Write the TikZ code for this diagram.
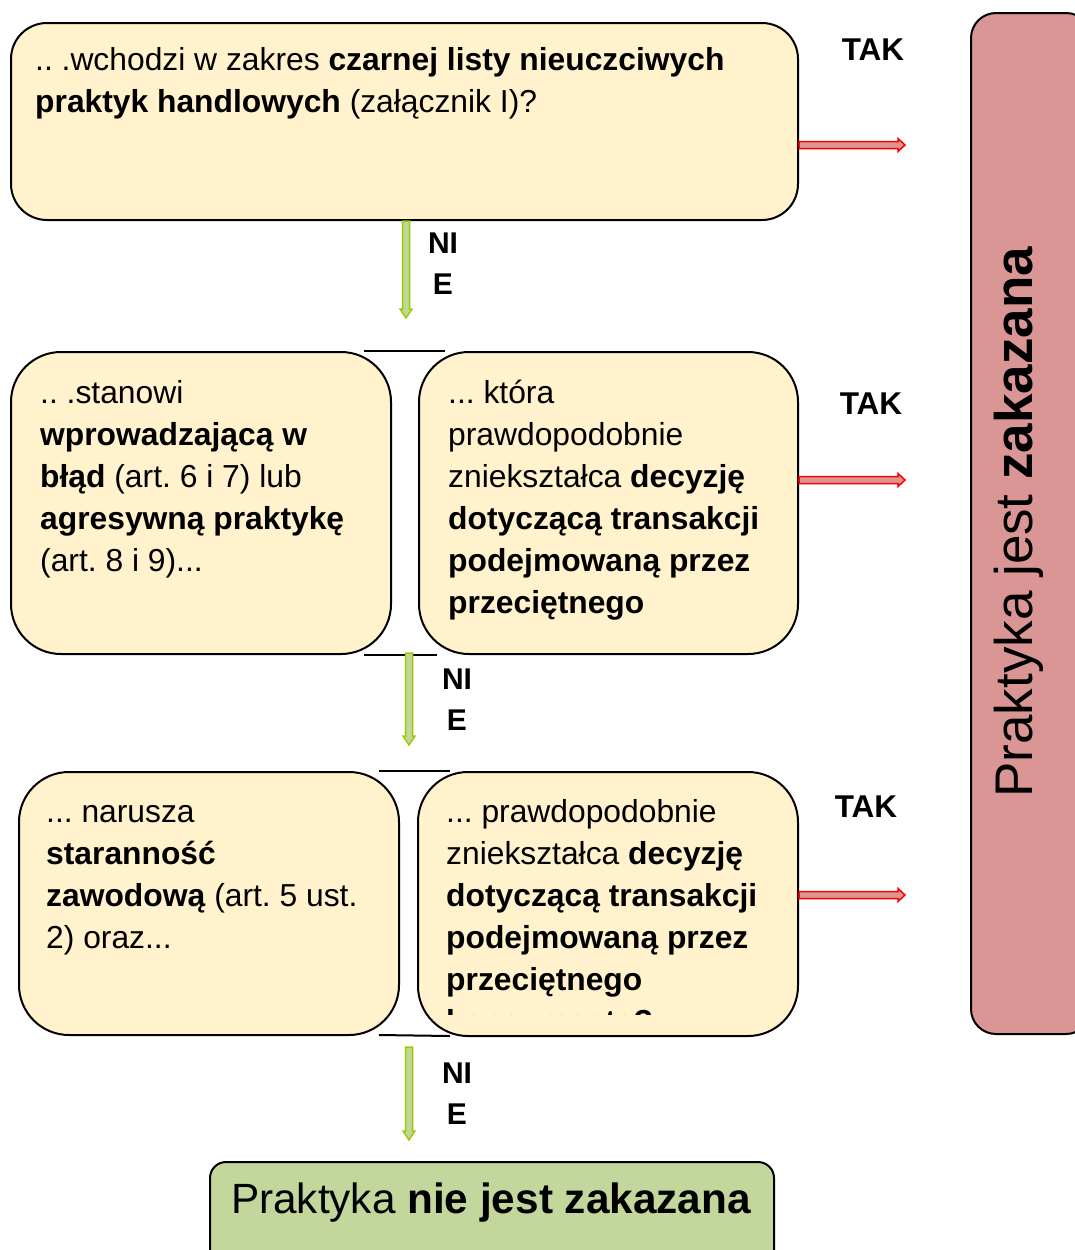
\documentclass[tikz,border=0pt]{standalone}
\usepackage{fontspec}
\setmainfont{Liberation Sans}
\usetikzlibrary{calc}
\frenchspacing
\definecolor{boxfill}{HTML}{FFF2CC}
\definecolor{pinkfill}{HTML}{D99694}
\definecolor{greenfill}{HTML}{C3D69B}
\definecolor{arrgreen}{HTML}{99CC00}
\definecolor{arrgreenfill}{HTML}{C3D69B}
\newcommand{\mylines}[1]{\begin{tabular}[t]{@{}l@{}}#1\end{tabular}}
\newcommand{\mycentered}[1]{\begin{tabular}[t]{@{}c@{}}#1\end{tabular}}
% horizontal red arrow from #1 to #2
\newcommand{\redarrow}[2]{%
  \filldraw[redarr] ($(#1)+(0,-3.5)$) -- ($(#2)+(-7,-3.5)$) -- ($(#2)+(-7,-6.5)$) -- (#2)
    -- ($(#2)+(-7,6.5)$) -- ($(#2)+(-7,3.5)$) -- ($(#1)+(0,3.5)$) -- cycle;}
% vertical green arrow from #1 down to #2
\newcommand{\greenarrow}[2]{%
  \filldraw[greenarr] ($(#1)+(-3.5,0)$) -- ($(#2)+(-3.5,-9)$) -- ($(#2)+(-6,-9)$) -- (#2)
    -- ($(#2)+(6,-9)$) -- ($(#2)+(3.5,-9)$) -- ($(#1)+(3.5,0)$) -- cycle;}
\begin{document}
\frenchspacing
\begin{tikzpicture}[x=1pt,y=-1pt,
  box/.style={draw=black, line width=2pt, fill=boxfill, anchor=north west, inner sep=0pt},
  txt/.style={anchor=base west, inner sep=0pt, font=\fontsize{31.8}{42}\selectfont},
  lbl/.style={anchor=base, inner sep=0pt, font=\fontsize{31.5}{41}\selectfont\bfseries},
  brk/.style={draw=black, line width=2pt},
  redarr/.style={draw=red, fill=pinkfill, line width=1.5pt, line join=miter},
  greenarr/.style={draw=arrgreen, fill=arrgreenfill, line width=1.5pt, line join=miter}]
\useasboundingbox (0,0) rectangle (1075,1250);

% boxes
\node[box, rounded corners=36pt, minimum width=787pt, minimum height=197pt] (b1) at (10,22) {};
\node[box, rounded corners=50pt, minimum width=380pt, minimum height=302pt] (b2l) at (10,351) {};
\node[box, rounded corners=50pt, minimum width=379pt, minimum height=302pt] (b2r) at (418,351) {};
\node[box, rounded corners=50pt, minimum width=380pt, minimum height=263pt] (b3l) at (18,771) {};
\node[box, rounded corners=50pt, minimum width=380pt, minimum height=264pt] (b3r) at (417,771) {};
\node[box, fill=pinkfill, rounded corners=25pt, minimum width=120pt, minimum height=1021pt] (pink) at (970,12) {};
\node[box, fill=greenfill, rounded corners=16pt, minimum width=564pt, minimum height=110pt] (final) at (209,1161) {};

% texts
\node[txt] (t1) at (35,70) {\mylines{.. .wchodzi w zakres \textbf{czarnej listy nieuczciwych}\\
  \textbf{praktyk handlowych} (załącznik I)?}};
\node[txt] (t2l) at (40,403) {\mylines{.. .stanowi\\ \textbf{wprowadzającą w}\\
  \textbf{błąd} (art. 6 i 7) lub\\ \textbf{agresywną praktykę}\\ (art. 8 i 9)...}};
\node[txt] (t2r) at (448,403) {\mylines{... która\\ prawdopodobnie\\ zniekształca \textbf{decyzję}\\
  \textbf{dotyczącą transakcji}\\ \textbf{podejmowaną przez}\\ \textbf{przeciętnego}}};
\node[txt] (t3l) at (46,822) {\mylines{... narusza\\ \textbf{staranność}\\
  \textbf{zawodową} (art. 5 ust.\\ 2) oraz...}};
\begin{scope}
  \clip (417,771) rectangle (797,1014);
  \node[txt] (t3r) at (446,822) {\mylines{... prawdopodobnie\\ zniekształca \textbf{decyzję}\\
    \textbf{dotyczącą transakcji}\\ \textbf{podejmowaną przez}\\ \textbf{przeciętnego}\\ \textbf{konsumenta?}}};
\end{scope}
\node[anchor=base, inner sep=0pt, rotate=90, font=\fontsize{53}{60}\selectfont] (tp) at (1032,522)
  {Praktyka jest \textbf{zakazana}};
\node[anchor=base, inner sep=0pt, font=\fontsize{42.3}{50}\selectfont] (tf) at (491,1213)
  {Praktyka \textbf{nie jest zakazana}};

% TAK labels
\node[lbl] (tak1) at (873,60) {TAK};
\node[lbl] (tak2) at (871,414) {TAK};
\node[lbl] (tak3) at (866,817) {TAK};

% NIE labels
\node[lbl, font=\fontsize{30}{41}\selectfont\bfseries] (n1) at (443,253) {\mycentered{NI\\E}};
\node[lbl, font=\fontsize{30}{41}\selectfont\bfseries] (n2) at (457,689) {\mycentered{NI\\E}};
\node[lbl, font=\fontsize{30}{41}\selectfont\bfseries] (n3) at (457,1083) {\mycentered{NI\\E}};

% bracket lines
\draw[brk] ($(b2l.north east)+(-28,0)$) -- ($(b2r.north west)+(27,0)$);
\draw[brk] ($(b2l.south east)+(-28,0)$) -- ($(b2r.south west)+(19,0)$);
\draw[brk] ($(b3l.north east)+(-21,0)$) -- ($(b3r.north west)+(33,0)$);
\draw[brk] ($(b3l.south east)+(-21,-1)$) -- ($(b3r.south west)+(33,-1)$);

% red arrows
\coordinate (r1e) at (905,145);
\coordinate (r1s) at (b1.east |- r1e);
\coordinate (r2e) at (905,480);
\coordinate (r2s) at (b2r.east |- r2e);
\coordinate (r3e) at (905,895);
\coordinate (r3s) at (b3r.east |- r3e);
\redarrow{r1s}{r1e}
\redarrow{r2s}{r2e}
\redarrow{r3s}{r3e}

% green arrows
\coordinate (g1e) at (406,318);
\coordinate (g1s) at (b1.south -| g1e);
\coordinate (g2s) at (409,653);
\coordinate (g2e) at (409,745);
\coordinate (g3s) at (409,1047);
\coordinate (g3e) at (409,1140);
\greenarrow{g1s}{g1e}
\greenarrow{g2s}{g2e}
\greenarrow{g3s}{g3e}
\end{tikzpicture}
\end{document}
